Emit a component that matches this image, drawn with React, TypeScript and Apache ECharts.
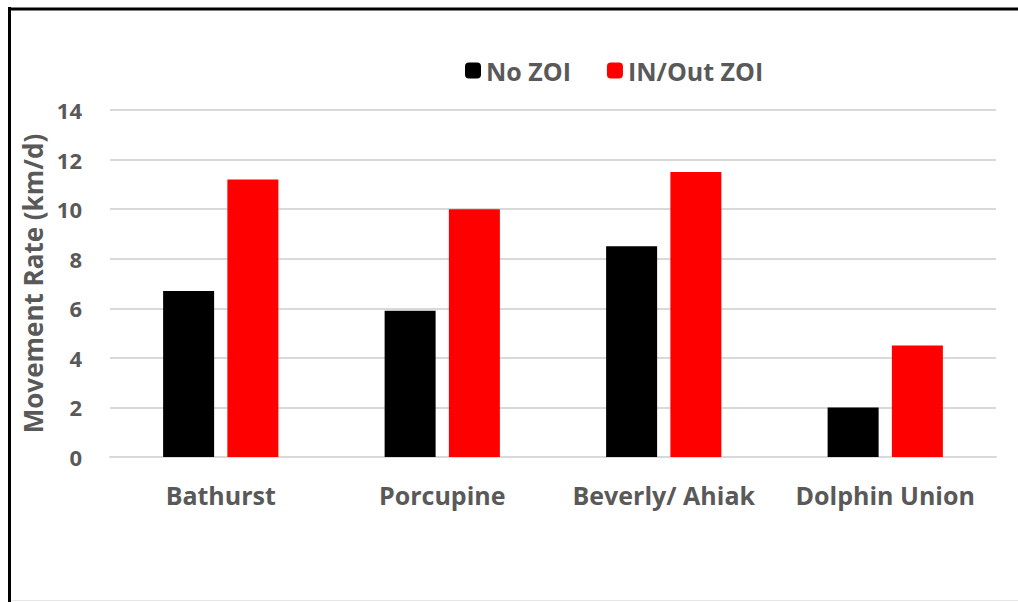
import React, { useEffect, useRef } from "react";
import * as echarts from "echarts";

const categories = ["Bathurst", "Porcupine", "Beverly/ Ahiak", "Dolphin Union"];
const noZoi = [6.7, 5.9, 8.5, 2.0];
const inOutZoi = [11.2, 10.0, 11.5, 4.5];
const seriesNames = ["No ZOI", "IN/Out ZOI"];
const yAxisTitle = "Movement Rate (km/d)";

const FONT = "'Open Sans', 'DejaVu Sans', sans-serif";
const TEXT = "#595959";

export default function App() {
  const ref = useRef<HTMLDivElement>(null);
  useEffect(() => {
    if (!ref.current) return;
    const chart = echarts.init(ref.current, undefined, { renderer: "svg" });
    chart.setOption({
      animation: false,
      backgroundColor: "#ffffff",
      textStyle: { fontFamily: FONT },
      legend: {
        top: 53,
        left: 460,
        itemWidth: 16,
        itemHeight: 16,
        itemGap: 36,
        textStyle: { color: TEXT, fontSize: 25, fontWeight: "bold", fontFamily: FONT },
        data: seriesNames,
      },
      grid: { left: 110, right: 22, top: 110, bottom: 145 },
      xAxis: {
        type: "category",
        data: categories,
        axisLine: { lineStyle: { color: "#d9d9d9", width: 2 } },
        axisTick: { show: false },
        axisLabel: { color: TEXT, fontSize: 25, fontWeight: "bold", margin: 25, interval: 0, hideOverlap: false, fontFamily: FONT },
      },
      yAxis: {
        type: "value",
        min: 0,
        max: 14,
        interval: 2,
        name: yAxisTitle,
        nameLocation: "middle",
        nameGap: 62,
        nameTextStyle: { color: TEXT, fontSize: 26, fontWeight: "bold", fontFamily: FONT },
        axisLine: { show: false },
        axisTick: { show: false },
        axisLabel: { color: TEXT, fontSize: 22, fontWeight: "bold", margin: 28, fontFamily: FONT },
        splitLine: { lineStyle: { color: "#d9d9d9", width: 2 } },
      },
      series: [
        {
          name: seriesNames[0],
          type: "bar",
          data: noZoi,
          barWidth: 51,
          barGap: "26%",
          itemStyle: { color: "#000000" },
        },
        {
          name: seriesNames[1],
          type: "bar",
          data: inOutZoi,
          barWidth: 51,
          itemStyle: { color: "#ff0000" },
        },
      ],
      graphic: [
        { type: "line", shape: { x1: 9.5, y1: 7, x2: 9.5, y2: 602 }, style: { stroke: "#000", lineWidth: 3 } },
        { type: "line", shape: { x1: 8, y1: 9, x2: 1018, y2: 9 }, style: { stroke: "#000", lineWidth: 3 } },
        { type: "line", shape: { x1: 11, y1: 600.5, x2: 1018, y2: 600.5 }, style: { stroke: "#e6e6e6", lineWidth: 1 } },
      ],
    });
    return () => chart.dispose();
  }, []);
  return (
    <div
      ref={ref}
      style={{ position: "fixed", left: 0, top: 0, width: 1018, height: 602 }}
    />
  );
}
